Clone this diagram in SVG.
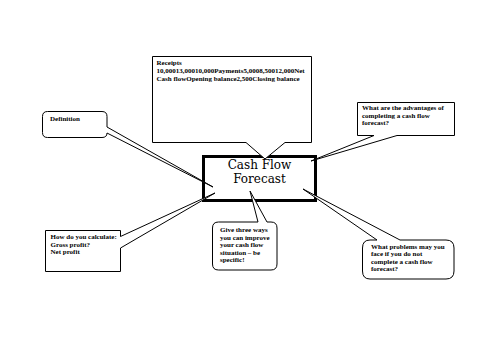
<svg xmlns="http://www.w3.org/2000/svg" width="500" height="353" viewBox="0 0 500 353">
<style>
.call{fill:#fff;stroke:#000;stroke-width:1;stroke-linejoin:miter}
.t{font-family:"Liberation Serif","Times New Roman",serif;font-weight:bold;font-size:7px;fill:#000}
.main{font-family:"DejaVu Serif",serif;font-size:12px;fill:#000;text-anchor:middle}
</style>
<rect width="500" height="353" fill="#fff"/>
<g id="center">
<rect x="203.5" y="156.5" width="112" height="44" fill="#fff" stroke="#000" stroke-width="3"/>
<text class="main" x="259.5" y="169">Cash Flow</text>
<text class="main" x="259.5" y="183">Forecast</text>
</g>
<g id="connectors"></g>
<g id="receipts">
<path class="call" d="M152.5,56.5 H311.5 V142.5 H285 L265,159 L246,142.5 H152.5 Z"/>
<text class="t" x="156.5" y="65">Receipts</text>
<text class="t" x="156.5" y="73">10,00013,00010,000Payments5,0008,50012,000Net</text>
<text class="t" x="156.5" y="81">Cash flowOpening balance2,500Closing balance</text>
</g>
<g id="definition">
<path class="call" d="M47.5,111.5 H102 Q107,111.5 107,116.5 V127 L213,187 L107,133 Q107,137.5 102,137.5 H47.5 Q42.5,137.5 42.5,132.5 V116.5 Q42.5,111.5 47.5,111.5 Z"/>
<text class="t" x="50" y="121">Definition</text>
</g>
<g id="advantages">
<path class="call" d="M357.5,102.5 H454.5 V135.5 H397 L311,161 L374,135.5 H357.5 Z"/>
<text class="t" x="362" y="110">What are the advantages of</text>
<text class="t" x="362" y="117.5">completing a cash flow</text>
<text class="t" x="362" y="125">forecast?</text>
</g>
<g id="calculate">
<path class="call" d="M45.5,230.5 H120.5 V236.5 L215,193 L120.5,248 V271.5 H45.5 Z"/>
<text class="t" x="50.5" y="239">How do you calculate:</text>
<text class="t" x="50.5" y="246.5">Gross profit?</text>
<text class="t" x="50.5" y="254">Net profit</text>
</g>
<g id="improve">
<path class="call" d="M218.5,222 H258 L250,191 L267,222 H271 Q277,222 277,228 V264 Q277,270 271,270 H218.5 Q212.5,270 212.5,264 V228 Q212.5,222 218.5,222 Z"/>
<text class="t" x="220" y="232">Give three ways</text>
<text class="t" x="220" y="239.5">you can improve</text>
<text class="t" x="220" y="247">your cash flow</text>
<text class="t" x="220" y="254.5">situation – be</text>
<text class="t" x="220" y="262">specific!</text>
</g>
<g id="problems">
<path class="call" d="M370,240 H377 L303,189 L400,240 H446 Q454,240 454,248 V271 Q454,279 446,279 H370 Q362.5,279 362.5,271 V248 Q362.5,240 370,240 Z"/>
<text class="t" x="371" y="248.5">What problems may you</text>
<text class="t" x="371" y="256">face if you do not</text>
<text class="t" x="371" y="263.5">complete a cash flow</text>
<text class="t" x="371" y="271">forecast?</text>
</g>
</svg>
